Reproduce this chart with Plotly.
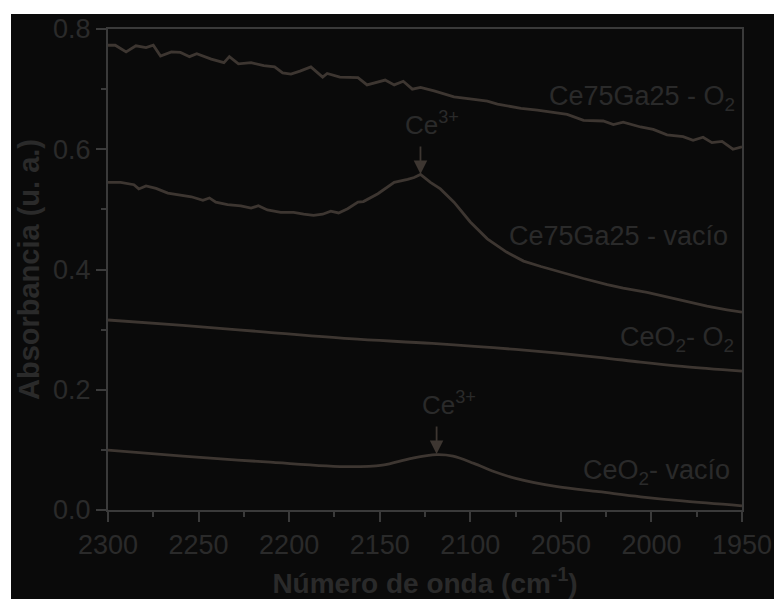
import plotly.graph_objects as go

# ---------------- data ----------------
x_ce75_o2 = [2300, 2296, 2290, 2284.6, 2279, 2275, 2271, 2265, 2260, 2255, 2251, 2243, 2236, 2233,
             2228, 2221, 2214, 2208, 2203.6, 2199, 2194, 2188, 2181.5, 2179, 2172, 2162, 2157, 2152,
             2147, 2142, 2137, 2132, 2127.5, 2120, 2109, 2098, 2090.6, 2085, 2072, 2063, 2052,
             2046.5, 2037.5, 2026.6, 2021, 2015.6, 2006, 1999, 1991.4, 1982.5, 1977, 1971.5,
             1966.6, 1961, 1955, 1950]
y_ce75_o2 = [0.773, 0.773, 0.762, 0.772, 0.769, 0.773, 0.755, 0.762, 0.761, 0.754, 0.759, 0.750,
             0.744, 0.754, 0.742, 0.744, 0.739, 0.737, 0.727, 0.725, 0.730, 0.737, 0.720, 0.726,
             0.720, 0.719, 0.707, 0.711, 0.715, 0.707, 0.713, 0.700, 0.703, 0.697, 0.687, 0.683,
             0.680, 0.675, 0.668, 0.665, 0.661, 0.658, 0.648, 0.647, 0.641, 0.645, 0.637, 0.633,
             0.624, 0.621, 0.615, 0.620, 0.611, 0.613, 0.600, 0.604]

x_ce75_vac = [2300, 2293, 2285.7, 2283, 2279, 2273.5, 2267, 2260, 2254, 2247.6, 2244, 2240.5, 2234,
              2226.7, 2221, 2217, 2212, 2204.6, 2197.5, 2192, 2186.5, 2181.5, 2177, 2172.7, 2167.7,
              2162, 2159, 2151, 2145.7, 2142, 2134.6, 2131, 2127.5, 2123, 2122, 2116.5, 2109, 2100,
              2090.6, 2080, 2070.6, 2061, 2048.6, 2037.5, 2024.4, 2015.6, 2002.4, 1991.4, 1980.3,
              1969.3, 1958.3, 1950]
y_ce75_vac = [0.545, 0.545, 0.541, 0.534, 0.539, 0.535, 0.527, 0.524, 0.521, 0.515, 0.519, 0.512,
              0.508, 0.506, 0.502, 0.506, 0.499, 0.495, 0.495, 0.492, 0.490, 0.492, 0.497, 0.494,
              0.501, 0.512, 0.513, 0.526, 0.537, 0.545, 0.550, 0.553, 0.558, 0.547, 0.545, 0.534,
              0.512, 0.479, 0.451, 0.429, 0.414, 0.405, 0.394, 0.385, 0.375, 0.369, 0.362, 0.354,
              0.346, 0.339, 0.333, 0.329]

x_ceo2_o2 = [2300, 2258.7, 2212.8, 2166.9, 2121, 2075, 2029, 2006, 1983, 1950]
y_ceo2_o2 = [0.316, 0.307, 0.296, 0.285, 0.277, 0.267, 0.254, 0.246, 0.239, 0.231]

x_ceo2_vac = [2300, 2258.7, 2212.8, 2166.9, 2148.5, 2132.5, 2118.6, 2109.5, 2098, 2086.6, 2075,
              2052, 2029, 2006, 1983, 1950]
y_ceo2_vac = [0.0996, 0.0896, 0.080, 0.072, 0.0747, 0.086, 0.092, 0.0896, 0.0775, 0.0636, 0.0526,
              0.0387, 0.0304, 0.022, 0.015, 0.007]

labels = ["Ce75Ga25 - O<sub>2</sub>", "Ce75Ga25 - vacío",
          "CeO<sub>2</sub>- O<sub>2</sub>", "CeO<sub>2</sub>- vacío"]
label_x = [1953, 1956.6, 1953.3, 1955.5]
label_y = [0.686, 0.456, 0.285, 0.063]

peak_x = [2127.5, 2118.6]
peak_y = [0.559, 0.093]
peak_text = "Ce<sup>3+</sup>"

x_ticks = [2300, 2250, 2200, 2150, 2100, 2050, 2000, 1950]
y_ticks = [0.0, 0.2, 0.4, 0.6, 0.8]

# ---------------- styling ----------------
BG = "#0a0a0a"
LINE = "#3d3631"
TXT = "#2a2a2a"
AX = "#3a3a3a"
FONT = "Liberation Sans, Arial, sans-serif"

fig = go.Figure()
for xs, ys, shape in [(x_ce75_o2, y_ce75_o2, "linear"), (x_ce75_vac, y_ce75_vac, "linear"),
                      (x_ceo2_o2, y_ceo2_o2, "spline"), (x_ceo2_vac, y_ceo2_vac, "spline")]:
    fig.add_trace(go.Scatter(x=xs, y=ys, mode="lines",
                             line=dict(color=LINE, width=2.8, shape=shape),
                             showlegend=False, hoverinfo="skip"))

W, H = 774, 599
ml, mr, mt, mb = 108, 32, 29, 89
pw, ph = W - ml - mr, H - mt - mb

# white strips at top and left of the page
fig.add_shape(type="rect", xref="paper", yref="paper",
              x0=-ml / pw - 0.01, x1=(W - ml) / pw + 0.01,
              y0=1 + (mt - 14) / ph, y1=1 + mt / ph + 0.01,
              fillcolor="white", line_width=0, layer="below")
fig.add_shape(type="rect", xref="paper", yref="paper",
              x0=-ml / pw - 0.01, x1=(11 - ml) / pw, y0=-mb / ph - 0.01, y1=1 + mt / ph + 0.01,
              fillcolor="white", line_width=0, layer="below")

for t, xx, yy in zip(labels, label_x, label_y):
    fig.add_annotation(x=xx, y=yy, xref="x", yref="y", text=t, showarrow=False,
                       xanchor="right", yanchor="middle",
                       font=dict(family=FONT, size=27, color=TXT))

for px_, py_ in zip(peak_x, peak_y):
    fig.add_annotation(x=px_, y=py_, xref="x", yref="y", text=" ", showarrow=True,
                       ax=0, ay=-36, arrowhead=2, arrowsize=1.5, arrowwidth=1.8,
                       arrowcolor=LINE, standoff=0)
    fig.add_annotation(x=px_, y=py_, xref="x", yref="y", text=peak_text, showarrow=False,
                       xanchor="left", yanchor="bottom", xshift=-17, yshift=32,
                       font=dict(family=FONT, size=26, color=TXT))

fig.update_layout(
    width=W, height=H,
    margin=dict(l=ml, r=mr, t=mt, b=mb, autoexpand=False),
    paper_bgcolor=BG, plot_bgcolor=BG,
    font=dict(family=FONT, color=TXT),
    xaxis=dict(range=[2300, 1950], tickvals=x_ticks, ticks="outside", ticklen=10,
               tickwidth=1.5, tickcolor=AX, showline=True, linecolor=AX, linewidth=2,
               mirror=True, showgrid=False, zeroline=False, automargin=False,
               tickfont=dict(family=FONT, size=27, color=TXT), ticklabelstandoff=0,
               minor=dict(dtick=25, ticks="outside", ticklen=5, tickcolor=AX, tickwidth=1.5,
                          showgrid=False),
               title=dict(text="Número de onda (cm<sup>-1</sup>)", standoff=30,
                          font=dict(family=FONT, size=28, color=TXT, weight="bold"))),
    yaxis=dict(range=[0, 0.8], tickvals=y_ticks, tickformat=".1f", ticks="outside",
               ticklen=10, tickwidth=1.5, tickcolor=AX, showline=True, linecolor=AX,
               linewidth=2, mirror=True, showgrid=False, zeroline=False, automargin=False,
               tickfont=dict(family=FONT, size=27, color=TXT),
               minor=dict(dtick=0.1, ticks="outside", ticklen=5, tickcolor=AX, tickwidth=1.5,
                          showgrid=False),
               title=dict(text="Absorbancia (u. a.)", standoff=5,
                          font=dict(family=FONT, size=29, color=TXT, weight="bold"))),
)

fig.write_html("out.html")
